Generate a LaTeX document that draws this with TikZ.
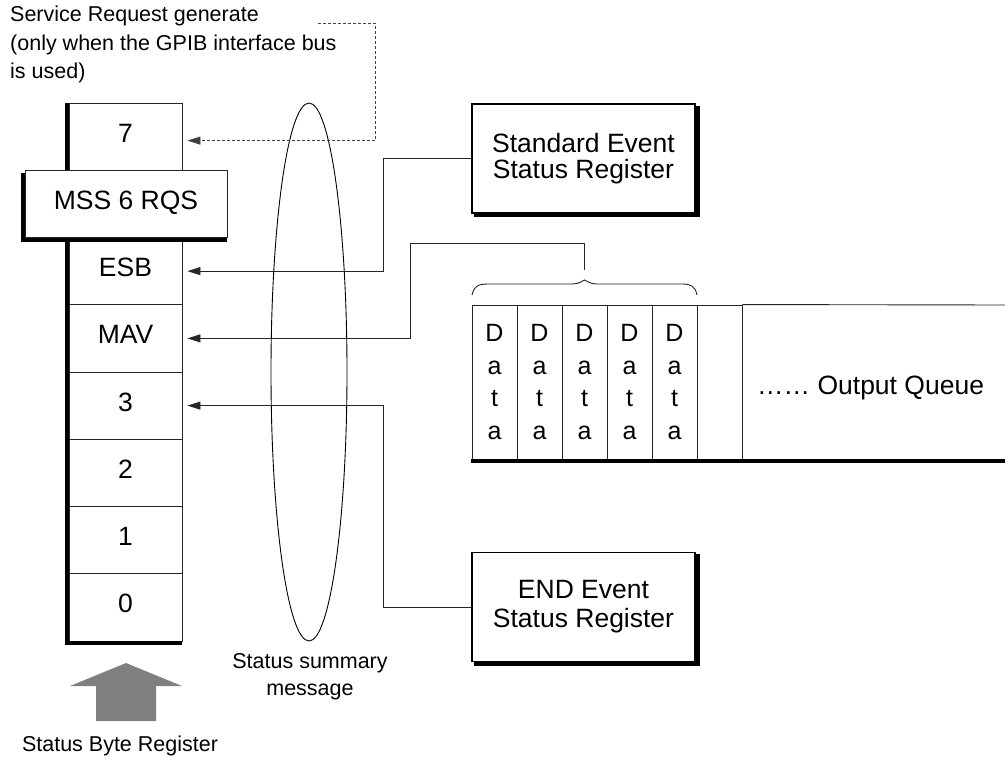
\documentclass[tikz,border=0pt]{standalone}
\usepackage{fontspec}
\setmainfont{Liberation Sans}
\usetikzlibrary{arrows.meta,shapes.geometric,calc}
\begin{document}
\begin{tikzpicture}[x=1pt,y=-1pt,
  line/.style={line width=0.9pt, draw=black!85},
  small/.style={font=\fontsize{21.5pt}{27pt}\selectfont, inner sep=0pt},
  cell/.style={draw=black!85, line width=0.9pt, minimum width=113pt, minimum height=67.25pt,
    inner sep=0pt, font=\fontsize{26.5pt}{26pt}\selectfont, text height=19pt, text depth=8pt},
  evbox/.style={draw=black, line width=1.2pt, fill=white, minimum width=223pt, minimum height=109pt,
    inner sep=0pt, align=center},
  qcell/.style={draw=black!85, line width=0.9pt, minimum width=45pt, minimum height=154pt,
    inner sep=0pt, align=center, font=\fontsize{25pt}{32.8pt}\selectfont},
  arr/.style={line, -{Triangle[length=13pt,width=8pt]}, shorten >=5pt},
  shadowbar/.style={fill=black},
]
\useasboundingbox (0,0) rectangle (1005,760);

% --- top note ---
\node[small, anchor=base west] (srq1) at (10,21.7) {Service Request generate};
\node[small, anchor=base west] (srq2) at (10,50.5) {(only when the GPIB interface bus};
\node[small, anchor=base west] (srq3) at (10,78.5) {is used)};
\coordinate (srqend) at (318,23.3);

% --- status byte register column ---
\node[cell] (c7)  at (125.5,136.625) {7};
\node[cell] (esb) at (125.5,271.125) {ESB};
\node[cell] (mav) at (125.5,338.375) {MAV};
\node[cell] (c3)  at (125.5,405.625) {3};
\node[cell] (c2)  at (125.5,472.875) {2};
\node[cell] (c1)  at (125.5,540.125) {1};
\node[cell] (c0)  at (125.5,607.375) {0};
\fill[shadowbar] (65,103) rectangle (69,645);
\fill[shadowbar] (65,641) rectangle (182,645);

\node[cell, minimum width=202pt, fill=white] (mss) at (126,203.875) {MSS 6 RQS};
\fill[shadowbar] (21,173) rectangle (25,241.5);
\fill[shadowbar] (21,237.5) rectangle (227,241.5);

% --- status summary ellipse ---
\node[draw=black, line width=0.9pt, ellipse, minimum width=76pt, minimum height=538pt, inner sep=0pt] (ssm) at (309,372) {};
\node[small, anchor=base] (ssm1) at (310,668) {Status summary};
\node[small, anchor=base] (ssm2) at (310,695) {message};

% --- event registers ---
\node[evbox, font=\fontsize{26.5pt}{26pt}\selectfont] (std) at (583.5,158.5) {Standard Event\\Status Register};
\fill[shadowbar] (695,106) rectangle (699.5,217);
\fill[shadowbar] (474,213) rectangle (699.5,217);

\node[evbox, font=\fontsize{26.5pt}{29pt}\selectfont] (endreg) at (583.5,607) {END Event\\Status Register};
\fill[shadowbar] (695,554) rectangle (699.5,666);
\fill[shadowbar] (474,662) rectangle (699.5,666);

% --- output queue ---
\node[qcell] (q1) at (494.5,382) {D\\a\\t\\a};
\node[qcell] (q2) at (539.5,382) {D\\a\\t\\a};
\node[qcell] (q3) at (584.5,382) {D\\a\\t\\a};
\node[qcell] (q4) at (629.5,382) {D\\a\\t\\a};
\node[qcell] (q5) at (674.5,382) {D\\a\\t\\a};
\node[qcell] (q6) at (719.5,382) {};
\coordinate (qtopend) at (1005,305);
\draw[line] (q6.north east) -- (qtopend);
\fill[shadowbar] (471,459) rectangle (1005,463);
\node[font=\fontsize{26.5pt}{26pt}\selectfont, inner sep=0pt, anchor=west] (oq) at (757,388) {…… Output Queue};

% brace over the data cells
\draw[line] (472,295) .. controls (474,286) and (478,284) .. (488,284) -- (572,284)
  .. controls (579,284) and (582,281) .. (584.5,280) .. controls (587,281) and (590,284) .. (597,284)
  -- (682,284) .. controls (691,284) and (695,286) .. (697,295);
\coordinate (bracetip) at (584.5,270);

% --- status byte label with arrow ---
\fill[fill={rgb,255:red,128;green,128;blue,128}] (126,663) -- (182,686) -- (156,686) -- (156,721) -- (96,721) -- (96,686) -- (70,686) -- cycle;
\node[small, anchor=base] (sbr) at (120,751.7) {Status Byte Register};

% --- connectors ---
\draw[arr, dash pattern=on 3pt off 2pt, draw=black!75] (srqend) -| ([xshift=193pt,yshift=-4pt]c7.east) -- ([yshift=-4pt]c7.east);
\draw[arr] (std.west) -| ([xshift=201pt]esb.east) -- (esb.east);
\draw[arr] (bracetip) -- ++(0,-27) -| ([xshift=228pt]mav.east) -- (mav.east);
\draw[arr] (endreg.west) -| ([xshift=201pt]c3.east) -- (c3.east);
\end{tikzpicture}
\end{document}
